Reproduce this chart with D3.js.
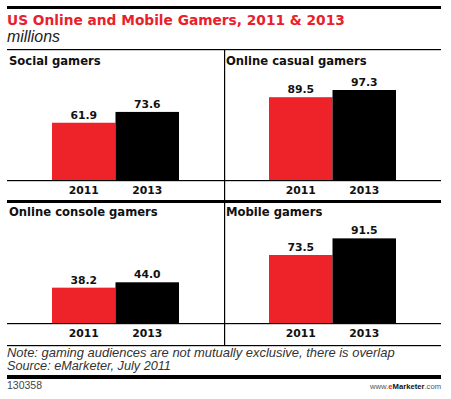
<!DOCTYPE html>
<html>
<head>
<meta charset="utf-8">
<script src="https://cdnjs.cloudflare.com/ajax/libs/d3/7.8.5/d3.min.js"></script>
<style>
  body { margin: 0; background: #fff; }
  svg { display: block; }
</style>
</head>
<body>
<svg id="chart"></svg>
<script>
// data
var categories = ["Social gamers", "Online casual gamers", "Online console gamers", "Mobile gamers"];
var years = ["2011", "2013"];
var values2011 = [61.9, 89.5, 38.2, 73.5];
var values2013 = [73.6, 97.3, 44.0, 91.5];

var width = 451, height = 399;
var left = 7, right = 441, mid = 224;
var red = "#ee2229";
var boldFont = "'DejaVu Sans', Verdana, sans-serif";
var plainFont = "'Liberation Sans', Arial, sans-serif";

var svg = d3.select("#chart")
    .attr("width", width)
    .attr("height", height);

// scale text so it fills a given width
function fit(sel, w) {
    var len = sel.node().getComputedTextLength();
    var fs = parseFloat(sel.attr("font-size"));
    sel.attr("font-size", (fs * w / len).toFixed(2));
}

// header
svg.append("rect").attr("x", left).attr("y", 6).attr("width", right - left).attr("height", 3).attr("fill", "#000");

svg.append("text")
    .attr("x", left).attr("y", 25)
    .attr("font-family", boldFont).attr("font-weight", "bold").attr("font-size", 14)
    .attr("fill", "#e8212b")
    .text("US Online and Mobile Gamers, 2011 & 2013")
    .call(fit, 338);

svg.append("text")
    .attr("x", left).attr("y", 42)
    .attr("font-family", plainFont).attr("font-style", "italic").attr("font-size", 15)
    .attr("fill", "#222")
    .text("millions")
    .call(fit, 53);

// panel frame lines
function hline(y, w) {
    svg.append("rect").attr("x", left).attr("y", y).attr("width", right - left).attr("height", w).attr("fill", "#000");
}
hline(49, 1.2);
hline(200, 3);
hline(345, 1.2);
hline(375, 4);
svg.append("rect").attr("x", mid).attr("y", 49).attr("width", 1.2).attr("height", 297).attr("fill", "#000");

// panels
var rows = [{ top: 50, base: 180 }, { top: 201, base: 323 }];

categories.forEach(function (cat, i) {
    var row = rows[Math.floor(i / 2)];
    var x0 = (i % 2 === 0) ? left : mid;
    var vals = [values2011[i], values2013[i]];

    var x = d3.scaleBand()
        .domain(years)
        .range([x0 + 45, x0 + 172])
        .padding(0);

    var y = d3.scaleLinear()
        .domain([0, 100])
        .range([row.base, row.base - 92.5]);

    var g = svg.append("g");

    g.append("text")
        .attr("x", x0 + 2).attr("y", row.top + 15)
        .attr("font-family", boldFont).attr("font-weight", "bold").attr("font-size", 11.6)
        .attr("fill", "#111")
        .text(cat);

    g.selectAll("rect.bar")
        .data(vals)
        .enter().append("rect")
        .attr("class", "bar")
        .attr("x", function (d, j) { return x(years[j]); })
        .attr("width", x.bandwidth())
        .attr("y", function (d) { return y(d); })
        .attr("height", function (d) { return y(0) - y(d); })
        .attr("fill", function (d, j) { return j === 0 ? red : "#000"; });

    g.selectAll("text.val")
        .data(vals)
        .enter().append("text")
        .attr("class", "val")
        .attr("x", function (d, j) { return x(years[j]) + x.bandwidth() / 2; })
        .attr("y", function (d) { return y(d) - 4; })
        .attr("text-anchor", "middle")
        .attr("font-family", boldFont).attr("font-weight", "bold").attr("font-size", 10.8)
        .attr("fill", "#111")
        .text(function (d) { return d.toFixed(1); });

    // baseline + year axis
    g.append("rect").attr("x", x0 === left ? left : mid).attr("y", row.base).attr("width", x0 === left ? mid - left : right - mid).attr("height", 1.2).attr("fill", "#000");

    var axis = d3.axisBottom(x).tickSize(0).tickPadding(0);
    var ax = g.append("g")
        .attr("transform", "translate(0," + row.base + ")")
        .call(axis);
    ax.select(".domain").remove();
    ax.selectAll("text")
        .attr("dy", null)
        .attr("y", 13.5)
        .attr("font-family", boldFont).attr("font-weight", "bold").attr("font-size", 10.8)
        .attr("fill", "#111");
});

// notes
svg.append("text")
    .attr("x", left).attr("y", 357)
    .attr("font-family", plainFont).attr("font-style", "italic").attr("font-size", 11.5)
    .attr("fill", "#333")
    .text("Note: gaming audiences are not mutually exclusive, there is overlap")
    .call(fit, 388);

svg.append("text")
    .attr("x", left).attr("y", 370)
    .attr("font-family", plainFont).attr("font-style", "italic").attr("font-size", 11.5)
    .attr("fill", "#333")
    .text("Source: eMarketer, July 2011")
    .call(fit, 164);

// footer
svg.append("text")
    .attr("x", left).attr("y", 389)
    .attr("font-family", plainFont).attr("font-size", 10)
    .attr("fill", "#444")
    .text("130358")
    .call(fit, 35);

var brand = svg.append("text")
    .attr("x", right).attr("y", 389)
    .attr("text-anchor", "end")
    .attr("font-family", plainFont).attr("font-size", 10.5)
    .attr("fill", "#555");
brand.append("tspan").text("www.");
brand.append("tspan").attr("fill", red).attr("font-weight", "bold").text("e");
brand.append("tspan").attr("fill", "#111").attr("font-weight", "bold").text("Marketer");
brand.append("tspan").text(".com");
brand.call(fit, 71);
</script>
</body>
</html>
